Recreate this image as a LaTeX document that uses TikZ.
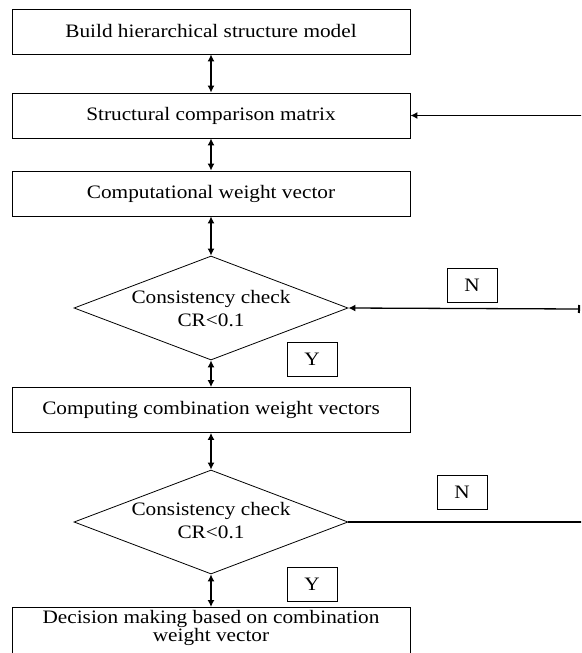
\documentclass[tikz,border=0pt]{standalone}
\usepackage{fontspec}
\setmainfont{Liberation Serif}[FakeStretch=1.12]
\usetikzlibrary{shapes.geometric,arrows.meta}
\begin{document}
\begin{tikzpicture}[x=1pt,y=-1pt,
  every node/.style={font=\fontsize{19pt}{18pt}\selectfont},
  stepbox/.style={draw,line width=0.8pt,minimum width=398pt,minimum height=45pt,inner sep=0pt,align=center},
  decide/.style={draw,diamond,line width=0.8pt,minimum width=274pt,minimum height=104pt,inner sep=0pt},
  dtext/.style={align=center,inner sep=0pt},
  tag/.style={draw,line width=0.8pt,minimum width=50pt,minimum height=34pt,inner sep=0pt},
  conn/.style={line width=1.3pt},
  dbl/.style={conn,{Latex[length=7pt,width=7pt]}-{Latex[length=7pt,width=7pt]}}]
\useasboundingbox (0,0) rectangle (581,653);
\clip (0,0) rectangle (581,653);
\node[stepbox] (b1) at (211,31.5) {Build hierarchical structure model};
\node[stepbox] (b2) at (211,115.5) {Structural comparison matrix};
\node[stepbox] (b3) at (211,193.5) {Computational weight vector};
\node[decide] (d1) at (211,308) {};
\node[dtext] at ([yshift=-1pt]d1.center) {Consistency check\\[5pt]CR<0.1};
\node[stepbox] (b4) at (211,410) {Computing combination weight vectors};
\node[decide] (d2) at (211,522) {};
\node[dtext] at ([yshift=1pt]d2.center) {Consistency check\\[5pt]CR<0.1};
\node[stepbox,minimum height=0pt,inner ysep=3pt,text depth=16pt,anchor=north] (b5) at (211,607) {Decision making based on combination\\weight vector};
\node[tag] (n1) at (472,285) {N};
\node[tag] (y1) at (312,359.5) {Y};
\node[tag] (n2) at (462,492.5) {N};
\node[tag] (y2) at (312,584.5) {Y};
\coordinate (r1) at (583,115.5);
\coordinate (r2) at (580,309);
\coordinate (r3) at (583,522);
\draw[dbl] (b1) -- (b2);
\draw[dbl] (b2) -- (b3);
\draw[dbl] (b3) -- (d1);
\draw[dbl] (d1) -- (b4);
\draw[dbl] (b4) -- (d2);
\draw[dbl] (d2) -- (b5);
\draw[conn,-{Latex[length=7pt,width=7pt]}] (r1) -- (b2.east);
\draw[conn,{Bar[width=8pt,line width=2pt]}-{Latex[length=7pt,width=7pt]}] (r2) -- (d1.east);
\draw[conn] (d2.east) -- (r3);
\end{tikzpicture}
\end{document}
